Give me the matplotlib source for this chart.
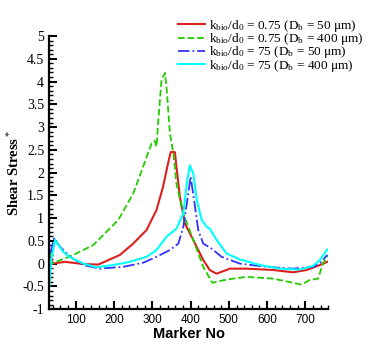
import numpy as np
import matplotlib
matplotlib.use("Agg")
import matplotlib.pyplot as plt
from matplotlib.ticker import MultipleLocator

plt.rcParams['mathtext.fontset'] = 'custom'
plt.rcParams['mathtext.rm'] = 'Liberation Serif'
plt.rcParams['mathtext.it'] = 'Liberation Serif:italic'

# digitised curves (marker no, shear stress*)
red_x = [31, 36, 40, 72, 120, 159, 215, 250, 285, 311, 328, 341, 348, 359, 363, 372, 385,
         407, 433, 450, 468, 503, 546, 616, 668, 703, 738, 757]
red_y = [0.25, 0.1, 0.0, 0.04, -0.01, -0.02, 0.19, 0.44, 0.74, 1.18, 1.69, 2.20, 2.45, 2.45,
         2.13, 1.47, 0.88, 0.52, 0.08, -0.14, -0.22, -0.11, -0.11, -0.14, -0.19, -0.14, -0.03, 0.04]

green_x = [31, 37, 93, 146, 211, 250, 276, 298, 306, 311, 315, 324, 333, 337, 346, 355, 363, 381,
           407, 433, 457, 494, 546, 616, 690, 711, 733, 746, 759]
green_y = [0.3, 0.0, 0.19, 0.41, 0.96, 1.54, 2.13, 2.64, 2.7, 2.57, 3.08, 4.03, 4.19, 3.89, 2.86,
           2.42, 1.76, 1.10, 0.52, -0.07, -0.42, -0.35, -0.29, -0.33, -0.46, -0.36, -0.33, 0.0, 0.19]

blue_x = [31, 36, 43, 59, 85, 120, 163, 224, 276, 311, 346, 368, 381, 394, 400, 409, 420,
          433, 455, 481, 529, 598, 668, 720, 742, 757]
blue_y = [-0.2, 0.3, 0.55, 0.37, 0.15, -0.03, -0.11, -0.07, 0.02, 0.15, 0.30, 0.44, 0.81,
          1.54, 1.91, 1.40, 0.74, 0.44, 0.33, 0.15, 0.0, -0.07, -0.11, -0.07, 0.04, 0.19]

cyan_x = [31, 36, 46, 67, 85, 120, 154, 198, 241, 285, 311, 337, 363, 381, 390, 398, 407,
          416, 429, 442, 450, 468, 494, 529, 581, 633, 685, 720, 738, 757]
cyan_y = [-0.5, 0.1, 0.52, 0.26, 0.14, 0.0, -0.08, -0.03, 0.04, 0.15, 0.30, 0.59, 0.77, 1.10,
          1.76, 2.16, 1.98, 1.40, 0.96, 0.81, 0.77, 0.52, 0.22, 0.09, -0.03, -0.11, -0.13,
          -0.05, 0.08, 0.31]

labels = [r'k$_{\rm bio}$/d$_0$ = 0.75 (D$_{\rm b}$ = 50 μm)',
          r'k$_{\rm bio}$/d$_0$ = 0.75 (D$_{\rm b}$ = 400 μm)',
          r'k$_{\rm bio}$/d$_0$ = 75 (D$_{\rm b}$ = 50 μm)',
          r'k$_{\rm bio}$/d$_0$ = 75 (D$_{\rm b}$ = 400 μm)']

fig = plt.figure(figsize=(3.74, 3.57), dpi=100)
ax = fig.add_axes([0.131, 0.134, 0.747, 0.765])

ax.plot(red_x, red_y, '-', color='#dd1f1f', lw=1.5, label=labels[0])
ax.plot(green_x, green_y, '--', color='#22cc00', lw=1.3, label=labels[1])
ax.plot(blue_x, blue_y, '-.', color='#3333ff', lw=1.3, label=labels[2])
ax.plot(cyan_x, cyan_y, '-', color='#00ffff', lw=1.5, label=labels[3])

ax.set_xlim(30, 760)
ax.set_ylim(-1, 5)
ax.spines['top'].set_visible(False)
ax.spines['right'].set_visible(False)
ax.spines['left'].set_linewidth(1.6)
ax.spines['bottom'].set_linewidth(1.6)

ax.xaxis.set_major_locator(MultipleLocator(100))
ax.xaxis.set_minor_locator(MultipleLocator(20))
ax.yaxis.set_major_locator(MultipleLocator(0.5))
ax.yaxis.set_minor_locator(MultipleLocator(0.1))
ax.tick_params(which='major', direction='in', length=6, width=1.5)
ax.tick_params(which='minor', direction='in', length=3, width=1)
ax.set_yticks(np.arange(-1, 5.01, 0.5))
ax.set_yticklabels(['%g' % v for v in np.arange(-1, 5.01, 0.5)],
                   fontfamily='Liberation Serif', fontsize=10)
for t in ax.get_xticklabels():
    t.set_fontfamily('Liberation Sans')
    t.set_fontsize(8.5)

ax.set_xlabel('Marker No', fontfamily='Liberation Sans', fontweight='bold', fontsize=10.5,
              labelpad=1)
ax.set_ylabel('Shear Stress$^*$', fontfamily='Liberation Serif', fontweight='bold',
              fontsize=10.5, labelpad=0)

leg = fig.legend(loc='upper right', bbox_to_anchor=(0.985, 0.965), frameon=False,
                 prop={'family': 'Liberation Serif', 'size': 9.5}, handlelength=2.0,
                 labelspacing=-0.2, handletextpad=0.3, borderaxespad=0)

fig.savefig('out.png', dpi=100)
